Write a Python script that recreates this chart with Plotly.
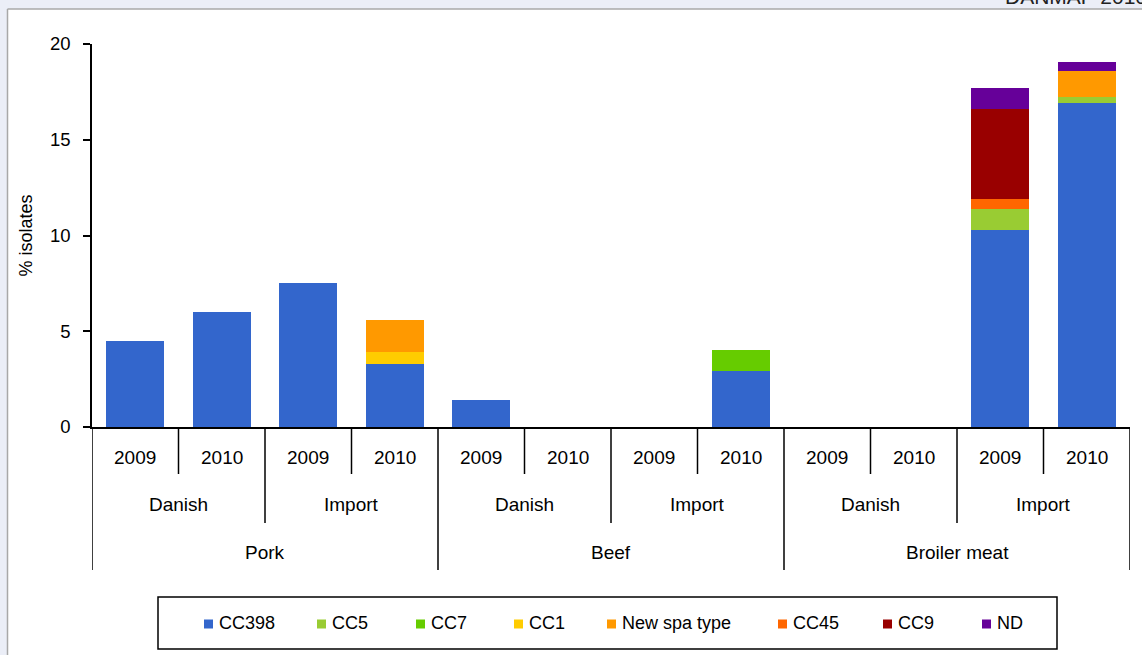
import plotly.graph_objects as go

# Category hierarchy (product > origin > year)
products = ["Pork", "Beef", "Broiler meat"]
origins = ["Danish", "Import"]
years = ["2009", "2010"]

# % isolates per clonal complex, one value per (product, origin, year) column
cc398 = [4.5, 6.0, 7.5, 3.3, 1.4, None, None, 2.9, None, None, 10.3, 16.9]
cc5 = [None, None, None, None, None, None, None, None, None, None, 1.1, 0.35]
cc7 = [None, None, None, None, None, None, None, 1.1, None, None, None, None]
cc1 = [None, None, None, 0.6, None, None, None, None, None, None, None, None]
new_spa = [None, None, None, 1.7, None, None, None, None, None, None, None, 1.35]
cc45 = [None, None, None, None, None, None, None, None, None, None, 0.5, None]
cc9 = [None, None, None, None, None, None, None, None, None, None, 4.7, None]
nd = [None, None, None, None, None, None, None, None, None, None, 1.1, 0.45]

y_ticks = [0, 5, 10, 15, 20]

series = [
    ("CC398", cc398, "#3366CC"),
    ("CC5", cc5, "#99CC33"),
    ("CC7", cc7, "#66CC00"),
    ("CC1", cc1, "#FFCC00"),
    ("New spa type", new_spa, "#FF9900"),
    ("CC45", cc45, "#FF6600"),
    ("CC9", cc9, "#990000"),
    ("ND", nd, "#660099"),
]

FONT = "Arial, Liberation Sans, sans-serif"
W, H = 1142, 655
L, R, T, B = 92, 12, 44, 228
plot_w, plot_h = W - L - R, H - T - B

# legend key positions (left edge of each key square, in page pixels)
legend_key_x = [204, 317, 416, 514, 607, 778, 883, 982]
legend_mid_y = 623
key_size = 9


def px_x(p):
    return (p - L) / plot_w


def px_y(p):
    return (H - B - p) / plot_h


n_years = len(years)
n_orig = len(origins)
positions = list(range(len(products) * n_orig * n_years))

fig = go.Figure()
for name, vals, color in series:
    fig.add_trace(go.Bar(
        x=positions, y=vals, name=name, showlegend=False,
        marker=dict(color=color, line=dict(width=0)),
    ))

shapes = []
annotations = []

# white chart panel on the lavender page
shapes.append(dict(type="rect", xref="paper", yref="paper", layer="below",
                   x0=px_x(8), x1=px_x(W + 5), y0=px_y(H + 5), y1=px_y(9),
                   fillcolor="white", line=dict(width=0)))
shapes.append(dict(type="line", xref="paper", yref="paper", layer="below",
                   x0=px_x(7.5), x1=px_x(W + 5), y0=px_y(9), y1=px_y(9),
                   line=dict(color="#A8A8A8", width=1.5)))
shapes.append(dict(type="line", xref="paper", yref="paper", layer="below",
                   x0=px_x(7.5), x1=px_x(7.5), y0=px_y(9), y1=px_y(H + 5),
                   line=dict(color="#A8A8A8", width=1.5)))

# hierarchical category axis: dividers and labels
y_year_lab, y_orig_lab, y_prod_lab = px_y(457), px_y(505), px_y(552)
y_year_div, y_orig_div, y_prod_div = px_y(474), px_y(523), px_y(570)
line_style = dict(color="black", width=1.5)
cat_font = dict(size=19, color="black", family=FONT)

for i, pos in enumerate(positions):
    annotations.append(dict(x=pos, y=y_year_lab, xref="x", yref="paper",
                            xanchor="center", yanchor="middle",
                            text=years[i % n_years], showarrow=False,
                            font=cat_font))
for i, pos in enumerate(positions + [positions[-1] + 1]):
    left = pos - 0.5
    if i % (n_years * n_orig) == 0:
        y_end = y_prod_div
    elif i % n_years == 0:
        y_end = y_orig_div
    else:
        y_end = y_year_div
    shapes.append(dict(type="line", xref="x", yref="paper", x0=left, x1=left,
                       y0=0, y1=y_end, line=line_style))

for j in range(len(products) * n_orig):
    centre = j * n_years + (n_years - 1) / 2
    annotations.append(dict(x=centre, y=y_orig_lab, xref="x", yref="paper",
                            xanchor="center", yanchor="middle",
                            text=origins[j % n_orig], showarrow=False,
                            font=cat_font))
for k, prod in enumerate(products):
    span = n_years * n_orig
    centre = k * span + (span - 1) / 2
    annotations.append(dict(x=centre, y=y_prod_lab, xref="x", yref="paper",
                            xanchor="center", yanchor="middle",
                            text=prod, showarrow=False, font=cat_font))

# y-axis title
annotations.append(dict(x=px_x(25), y=0.5, xref="paper", yref="paper",
                        xanchor="center", yanchor="middle",
                        text="% isolates", textangle=-90, showarrow=False,
                        font=dict(size=18, color="black", family=FONT)))

# header text running off the top edge of the page
annotations.append(dict(x=px_x(1003), y=px_y(-4), xref="paper", yref="paper",
                        xanchor="left", yanchor="middle",
                        text="DANMAP 2010", showarrow=False,
                        font=dict(size=21, color="#222222", family=FONT)))

# legend frame
shapes.append(dict(type="rect", xref="paper", yref="paper",
                   x0=px_x(158), x1=px_x(1057), y0=px_y(649), y1=px_y(597),
                   line=dict(color="black", width=1.5), fillcolor="rgba(0,0,0,0)"))

# legend keys and labels, coloured from the series
for (name, _, color), kx in zip(series, legend_key_x):
    shapes.append(dict(type="rect", xref="paper", yref="paper",
                       x0=px_x(kx), x1=px_x(kx + key_size),
                       y0=px_y(legend_mid_y + 1 + key_size / 2),
                       y1=px_y(legend_mid_y + 1 - key_size / 2),
                       fillcolor=color, line=dict(width=0)))
    annotations.append(dict(x=px_x(kx + key_size + 4), y=px_y(legend_mid_y),
                            xref="paper", yref="paper",
                            xanchor="left", yanchor="middle",
                            text=name, showarrow=False,
                            font=dict(size=18, color="black", family=FONT)))

fig.update_layout(
    width=W, height=H,
    margin=dict(l=L, r=R, t=T, b=B, autoexpand=False),
    paper_bgcolor="#EBEEF7",
    plot_bgcolor="white",
    barmode="stack",
    bargap=0.33,
    font=dict(family=FONT, size=18, color="black"),
    showlegend=False,
    xaxis=dict(range=[-0.5, len(positions) - 0.5], showticklabels=False,
               showgrid=False, zeroline=False, showline=True,
               linecolor="black", linewidth=1.5, ticks=""),
    yaxis=dict(range=[0, 20], tickvals=y_ticks, showgrid=False, zeroline=False,
               showline=True, linecolor="black", linewidth=1.5,
               ticks="outside", ticklen=7, tickwidth=1.5, tickcolor="black",
               tickfont=dict(size=18.5, color="black", family=FONT),
               ticklabelstandoff=9),
    shapes=shapes,
    annotations=annotations,
)

fig.write_html("out.html")
